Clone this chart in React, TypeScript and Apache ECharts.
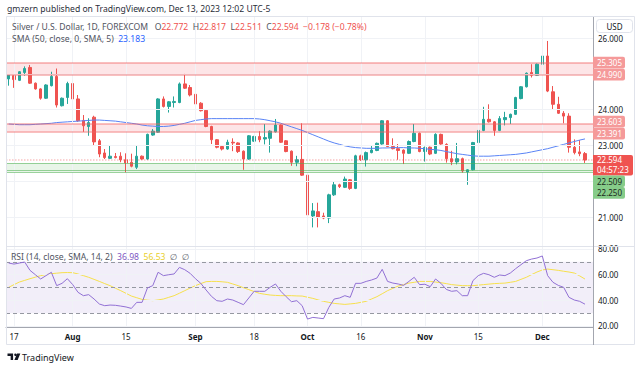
import React, { useEffect, useRef } from 'react';
import * as echarts from 'echarts';

const FONT = '"Noto Sans", "DejaVu Sans", sans-serif';

function weekdayDates(start: string, count: number): string[] {
  const out: string[] = [];
  const d = new Date(start + 'T00:00:00Z');
  while (out.length < count) {
    const wd = d.getUTCDay();
    if (wd !== 0 && wd !== 6) out.push(d.toISOString().slice(0, 10));
    d.setUTCDate(d.getUTCDate() + 1);
  }
  return out;
}

// 109 daily bars (Jul 14 – Dec 13, 2023) plus one empty slot of right margin
const categories = weekdayDates('2023-07-14', 110);

const xTickDates = ['2023-07-17', '2023-08-01', '2023-08-15', '2023-09-01', '2023-09-18', '2023-10-02', '2023-10-16', '2023-11-01', '2023-11-15', '2023-12-01'];
const xTickTexts = ['17', 'Aug', '15', 'Sep', '18', 'Oct', '16', 'Nov', '15', 'Dec'];

const opens = [
  24.86, 24.95, 24.82, 25.04, 25.18, 24.74, 24.58, 24.32, 24.67, 24.93,
  24.11, 24.34, 24.73, 24.30, 23.70, 23.53, 23.79, 23.13, 22.79, 22.64,
  22.69, 22.70, 22.60, 22.53, 22.39, 22.70, 22.62, 23.29, 23.37, 24.30,
  24.09, 24.20, 24.20, 24.72, 24.62, 24.43, 24.18, 23.98, 23.53, 23.16,
  22.97, 22.90, 23.09, 23.07, 22.84, 22.62, 23.12, 23.25, 23.18, 23.20,
  23.38, 23.57, 23.13, 22.84, 22.53, 22.61, 22.17, 21.03, 21.15, 21.03,
  20.97, 21.62, 21.90, 21.83, 22.04, 21.80, 22.71, 22.60, 22.80, 22.86,
  23.04, 23.69, 22.97, 22.91, 22.87, 22.78, 23.11, 23.34, 22.83, 22.95,
  22.78, 23.31, 23.03, 22.63, 22.54, 22.63, 22.26, 22.32, 23.08, 23.42,
  23.73, 23.66, 23.42, 23.72, 23.78, 23.87, 24.31, 24.64, 25.04, 24.96,
  25.27, 25.50, 24.50, 24.15, 23.90, 23.82, 22.95, 22.82, 22.772,
];
const highs = [
  24.99, 24.95, 25.08, 25.21, 25.25, 24.76, 24.60, 24.71, 25.06, 25.15,
  24.34, 24.78, 24.76, 24.41, 23.85, 23.76, 23.83, 23.18, 22.90, 23.00,
  22.79, 22.81, 22.78, 22.77, 23.00, 22.72, 23.33, 23.46, 24.32, 24.37,
  24.24, 24.37, 24.76, 25.00, 24.69, 24.82, 24.21, 24.00, 23.55, 23.18,
  22.99, 23.16, 23.20, 23.09, 22.86, 23.29, 23.27, 23.40, 23.60, 23.42,
  23.74, 23.59, 23.15, 22.86, 22.71, 23.62, 22.20, 21.39, 21.40, 21.12,
  21.65, 21.99, 21.93, 22.13, 22.06, 22.74, 22.74, 22.83, 23.01, 23.08,
  23.71, 23.71, 23.20, 23.04, 22.89, 23.14, 23.60, 23.36, 22.97, 22.97,
  23.34, 23.33, 23.06, 22.85, 23.07, 22.66, 22.34, 23.10, 23.62, 24.08,
  24.15, 23.68, 23.82, 23.94, 23.89, 24.36, 24.66, 25.04, 25.27, 25.29,
  25.55, 25.92, 24.66, 24.36, 23.96, 23.90, 23.17, 23.15, 22.817,
];
const lows = [
  24.67, 24.61, 24.80, 24.95, 24.72, 24.56, 24.28, 24.30, 24.65, 24.06,
  24.09, 24.16, 24.28, 23.66, 23.38, 23.27, 23.01, 22.67, 22.62, 22.62,
  22.64, 22.53, 22.25, 22.39, 22.34, 22.60, 22.60, 23.27, 23.35, 24.06,
  23.92, 24.06, 24.18, 24.58, 24.37, 24.13, 23.95, 23.51, 23.04, 22.92,
  22.86, 22.88, 22.84, 22.79, 22.32, 22.60, 23.10, 23.09, 23.03, 22.80,
  23.36, 23.07, 22.81, 22.43, 22.42, 22.15, 21.03, 20.71, 20.71, 20.94,
  20.83, 21.59, 21.81, 21.81, 21.76, 21.78, 22.57, 22.41, 22.78, 22.84,
  23.02, 22.95, 22.89, 22.60, 22.48, 22.76, 23.09, 22.81, 22.55, 22.73,
  22.76, 23.02, 22.52, 22.45, 22.47, 22.24, 21.90, 22.30, 23.06, 23.40,
  23.64, 23.27, 23.40, 23.56, 23.60, 23.85, 24.29, 24.62, 24.90, 24.94,
  25.24, 24.49, 24.01, 23.88, 23.62, 22.80, 22.75, 22.70, 22.511,
];
const closes = [
  24.97, 24.84, 25.06, 25.15, 24.74, 24.58, 24.32, 24.69, 24.93, 24.13,
  24.32, 24.73, 24.30, 23.69, 23.55, 23.64, 23.10, 22.76, 22.66, 22.70,
  22.66, 22.60, 22.51, 22.42, 22.70, 22.62, 23.31, 23.40, 24.30, 24.09,
  24.22, 24.23, 24.72, 24.60, 24.41, 24.16, 23.97, 23.53, 23.16, 22.95,
  22.90, 23.09, 23.07, 22.83, 22.62, 23.27, 23.25, 23.16, 23.22, 23.40,
  23.57, 23.09, 22.83, 22.53, 22.60, 22.17, 21.06, 21.17, 20.99, 20.97,
  21.62, 21.90, 21.85, 22.06, 21.80, 22.71, 22.60, 22.80, 22.87, 23.06,
  23.69, 22.97, 22.91, 22.86, 22.78, 23.11, 23.34, 22.83, 22.94, 22.76,
  23.31, 23.04, 22.63, 22.54, 22.63, 22.29, 22.32, 23.08, 23.42, 23.73,
  23.66, 23.42, 23.75, 23.78, 23.87, 24.34, 24.64, 25.02, 24.96, 25.27,
  25.50, 24.52, 24.15, 23.90, 23.82, 22.95, 22.80, 22.77, 22.594,
];
const sma50 = [
  23.60, 23.59, 23.58, 23.58, 23.58, 23.59, 23.60, 23.61, 23.62, 23.64,
  23.65, 23.66, 23.67, 23.68, 23.69, 23.70, 23.71, 23.71, 23.70, 23.69,
  23.68, 23.66, 23.64, 23.62, 23.60, 23.57, 23.55, 23.54, 23.53, 23.53,
  23.54, 23.56, 23.59, 23.62, 23.66, 23.70, 23.72, 23.74, 23.75, 23.75,
  23.75, 23.75, 23.75, 23.75, 23.75, 23.75, 23.75, 23.74, 23.72, 23.69,
  23.66, 23.62, 23.57, 23.52, 23.47, 23.42, 23.36, 23.30, 23.24, 23.18,
  23.12, 23.07, 23.03, 22.99, 22.96, 22.94, 22.93, 22.92, 22.92, 22.92,
  22.93, 22.93, 22.94, 22.94, 22.94, 22.93, 22.93, 22.92, 22.91, 22.89,
  22.88, 22.86, 22.83, 22.80, 22.77, 22.75, 22.73, 22.71, 22.70, 22.70,
  22.70, 22.71, 22.72, 22.73, 22.74, 22.75, 22.77, 22.79, 22.82, 22.85,
  22.88, 22.91, 22.95, 22.99, 23.03, 23.07, 23.11, 23.15, 23.183,
];
const rsi = [
  69.0, 68.2, 69.0, 69.8, 63.3, 59.9, 56.6, 59.2, 61.8, 51.4,
  53.2, 56.8, 52.2, 46.2, 43.6, 44.4, 41.0, 37.1, 35.8, 36.3,
  36.1, 35.5, 34.8, 33.7, 38.4, 38.4, 49.6, 51.4, 61.8, 59.2,
  59.9, 60.5, 65.6, 63.8, 61.0, 56.8, 53.2, 48.0, 43.1, 39.7,
  39.2, 41.0, 40.2, 38.4, 36.6, 41.8, 47.0, 47.0, 47.0, 50.1,
  52.7, 47.0, 42.8, 38.9, 39.7, 35.8, 25.4, 26.7, 26.2, 25.7,
  34.5, 41.0, 41.8, 43.6, 42.3, 53.2, 53.2, 54.7, 55.8, 57.3,
  64.1, 54.7, 53.4, 52.7, 51.6, 54.7, 57.9, 52.2, 52.5, 50.6,
  56.6, 53.2, 48.5, 47.0, 47.5, 43.6, 43.6, 55.3, 59.2, 61.0,
  59.9, 57.9, 59.7, 59.2, 61.2, 64.6, 67.7, 70.8, 72.1, 72.9,
  74.5, 59.2, 54.0, 51.6, 50.1, 42.3, 40.2, 39.2, 36.98,
];
const rsiMa = [
  50.1, 52.2, 54.2, 55.5, 56.8, 58.0, 59.2, 60.0, 60.7, 61.1,
  61.5, 61.6, 61.5, 60.5, 59.2, 57.9, 56.3, 54.7, 53.0, 51.4,
  49.4, 47.5, 45.4, 43.3, 42.0, 40.7, 40.1, 39.7, 40.3, 41.0,
  42.3, 43.6, 45.5, 47.5, 49.5, 51.4, 53.0, 54.5, 54.7, 54.7,
  54.4, 54.0, 52.7, 51.4, 49.8, 48.3, 46.8, 45.4, 44.7, 44.1,
  43.8, 43.6, 43.6, 43.6, 43.4, 43.3, 42.4, 41.5, 40.3, 39.2,
  38.4, 37.6, 37.2, 36.8, 37.2, 37.6, 38.4, 39.2, 41.0, 42.8,
  45.1, 47.5, 49.3, 51.1, 52.2, 53.4, 54.0, 54.7, 54.7, 54.7,
  54.2, 53.7, 53.0, 52.2, 51.8, 51.4, 51.4, 51.4, 51.8, 52.2,
  52.6, 53.0, 53.2, 53.4, 54.0, 54.7, 56.3, 57.9, 60.0, 62.0,
  63.6, 64.3, 63.8, 63.3, 62.6, 62.0, 61.2, 59.0, 56.53,
];

const priceTicks = [21, 22, 23, 24, 25, 26];
const priceTicksLabelled = [21, 23, 24, 26];
const rsiTicks = [20, 40, 60, 80];
const rsiLevels = [30, 50, 70];
const resistanceZones = [[24.990, 25.305], [23.391, 23.603]];
const supportLines = [22.509, 22.31, 22.250];
const supportZone = [22.250, 22.509];
const lastPrice = 22.594;
const countdown = '04:57:23';

const UP = '#26a69a';
const DOWN = '#ef5350';
const GRIDC = '#f0f2f6';
const FS = 8.6;

function boxLabel(x: number, yc: number, w: number, h: number, bg: string, fg: string, text: string) {
  return {
    type: 'group', z: 100,
    children: [
      { type: 'rect', shape: { x, y: yc - h / 2, width: w, height: h, r: [0, 2, 2, 0] }, style: { fill: bg }, z: 100 },
      { type: 'text', x: x + 4, y: yc, z: 101, style: { text, fill: fg, fontSize: 8, fontFamily: FONT, verticalAlign: 'middle', align: 'left' } },
    ],
  };
}

function buildGraphic(chart: any) {
  const W = chart.getWidth();
  const axisX = W - 50;
  const py = (v: number) => chart.convertToPixel({ yAxisIndex: 0 }, v) as number;
  const els: any[] = [];
  const H = 11.6;
  resistanceZones.forEach(([lo, hi]) => {
    const a = py(hi), b = py(lo);
    const m = (a + b) / 2;
    const ya = Math.min(a, m - H / 2 - 0.2), yb = Math.max(b, m + H / 2 + 0.2);
    els.push(boxLabel(axisX, ya, 32, H, '#f59a9a', '#ffffff', hi.toFixed(3)));
    els.push(boxLabel(axisX, yb, 32, H, '#f59a9a', '#ffffff', lo.toFixed(3)));
  });
  const yp = py(lastPrice);
  els.push({
    type: 'group', z: 100,
    children: [
      { type: 'rect', z: 100, shape: { x: axisX, y: yp - 5, width: 40, height: 20.5, r: [0, 2, 2, 0] }, style: { fill: DOWN } },
      { type: 'text', z: 101, x: axisX + 4, y: yp, style: { text: lastPrice.toFixed(3), fill: '#fff', fontSize: 8, fontFamily: FONT, verticalAlign: 'middle' } },
      { type: 'text', z: 101, x: axisX + 4, y: yp + 9.5, style: { text: countdown, fill: '#fff', fontSize: 8, fontFamily: FONT, verticalAlign: 'middle' } },
    ],
  });
  const priceBoxBottom = yp + 15.5;
  let yg = Math.max(py(supportZone[1]), priceBoxBottom + H / 2);
  els.push(boxLabel(axisX, yg, 32, H, '#86cc89', '#1c2a1d', supportZone[1].toFixed(3)));
  yg = Math.max(py(supportZone[0]), yg + H);
  els.push(boxLabel(axisX, yg, 32, H, '#86cc89', '#1c2a1d', supportZone[0].toFixed(3)));
  return els;
}

const staticGraphic = [
  { type: 'text', x: 7, y: 9, z: 100, style: { text: 'gmzern published on TradingView.com, Dec 13, 2023 12:02 UTC-5', fill: '#2a2e39', fontSize: FS, fontFamily: FONT, verticalAlign: 'middle' } },
  { type: 'rect', z: 99, shape: { x: 6.5, y: 16.5, width: 628, height: 328 }, style: { fill: 'none', stroke: '#e0e3eb', lineWidth: 1 } },
  { type: 'line', z: 99, shape: { x1: 6, y1: 246.5, x2: 635, y2: 246.5 }, style: { stroke: '#e0e3eb', lineWidth: 1 } },
  { type: 'line', z: 99, shape: { x1: 593.5, y1: 17, x2: 593.5, y2: 345 }, style: { stroke: '#a3a6af', lineWidth: 1 } },
  {
    type: 'text', x: 12, y: 27, z: 100,
    style: {
      text: '{g|Silver / U.S. Dollar, 1D, FOREXCOM   O}{r|22.772}{g|  H}{r|22.817}{g|  L}{r|22.511}{g|  C}{r|22.594}{r|  −0.178 (−0.78%)}',
      fontSize: FS, fontFamily: FONT, verticalAlign: 'middle',
      rich: { g: { fill: '#50535e', color: '#50535e', fontSize: FS, fontFamily: FONT }, r: { fill: DOWN, color: DOWN, fontSize: FS, fontFamily: FONT } },
    },
  },
  {
    type: 'text', x: 12, y: 39, z: 100,
    style: {
      text: '{g|SMA (50, close, 0, SMA, 5)}{b|  23.183}', fontSize: FS, fontFamily: FONT, verticalAlign: 'middle',
      rich: { g: { fill: '#50535e', color: '#50535e', fontSize: FS, fontFamily: FONT }, b: { fill: '#2962ff', color: '#2962ff', fontSize: FS, fontFamily: FONT } },
    },
  },
  {
    type: 'text', x: 11, y: 257, z: 100,
    style: {
      text: '{g|RSI (14, close, SMA, 14, 2)}{p|  36.98}{y|  56.53}{g|  ∅  ∅}', fontSize: FS, fontFamily: FONT, verticalAlign: 'middle',
      rich: {
        g: { fill: '#50535e', color: '#50535e', fontSize: FS, fontFamily: FONT },
        p: { fill: '#7e57c2', color: '#7e57c2', fontSize: FS, fontFamily: FONT },
        y: { fill: '#e9cf2a', color: '#e9cf2a', fontSize: FS, fontFamily: FONT },
      },
    },
  },
  {
    type: 'group', z: 100,
    children: [
      { type: 'rect', z: 100, shape: { x: 596.5, y: 19.5, width: 36, height: 13, r: 3 }, style: { fill: '#fff', stroke: '#e0e3eb', lineWidth: 1 } },
      { type: 'text', z: 101, x: 614.5, y: 26, style: { text: 'USD', fill: '#131722', fontSize: 8, fontFamily: FONT, align: 'center', verticalAlign: 'middle' } },
    ],
  },
  { type: 'tvlogo', z: 100, x: 7.5, y: 353.5, scaleX: 0.93, scaleY: 0.93, style: { fill: '#131722' } },
  { type: 'text', x: 22, y: 357, z: 100, style: { text: 'TradingView', fill: '#131722', fontSize: 9, fontFamily: FONT, verticalAlign: 'middle' } },
];

let shapeRegistered = false;
function registerLogo() {
  if (shapeRegistered) return;
  shapeRegistered = true;
  const d = 'M0 0 H6 V7 H3.4 V2.6 H0 Z M7.2 1.3 A1.3 1.3 0 1 0 9.8 1.3 A1.3 1.3 0 1 0 7.2 1.3 Z M10.3 0 H13.8 L10.9 7 H7.4 Z';
  (echarts as any).graphic.registerShape('tvlogo', (echarts as any).graphic.extendPath(d, {}));
}

export default function App() {
  const ref = useRef<HTMLDivElement>(null);
  useEffect(() => {
    if (!ref.current) return;
    registerLogo();
    const chart = echarts.init(ref.current, undefined, { renderer: 'svg' });
    const candleData = opens.map((o, i) => [o, closes[i], lows[i], highs[i]]);
    const vIdx = xTickDates.map((d) => categories.indexOf(d));
    const vLines = vIdx.map((i) => ({ xAxis: i, lineStyle: { color: GRIDC, width: 1, type: 'solid' }, label: { show: false } }));
    const priceGrid = priceTicks.map((v) => ({
      yAxis: v,
      lineStyle: { color: GRIDC, width: 1, type: 'solid' },
      label: priceTicksLabelled.includes(v)
        ? { show: true, position: 'end', distance: 5, formatter: v.toFixed(3), color: '#131722', fontSize: 8, fontFamily: FONT }
        : { show: false },
    }));
    const zoneBorders = resistanceZones.flat().map((v) => ({ yAxis: v, lineStyle: { color: 'rgba(242,100,100,0.55)', width: 1.6, type: 'solid' }, label: { show: false } }));
    const supportBorders = supportLines.map((v) => ({ yAxis: v, lineStyle: { color: 'rgba(76,175,80,0.55)', width: 1.2, type: 'solid' }, label: { show: false } }));
    const lastLine = { yAxis: lastPrice, lineStyle: { color: 'rgba(239,83,80,0.35)', width: 1.5, type: [1.5, 1.5] }, label: { show: false } };
    const rsiGrid = rsiTicks.map((v) => ({
      yAxis: v,
      lineStyle: { color: GRIDC, width: 1, type: 'solid' },
      label: { show: true, position: 'end', distance: 5, formatter: v.toFixed(2), color: '#131722', fontSize: 8, fontFamily: FONT },
    }));
    const rsiDashed = rsiLevels.map((v) => ({ yAxis: v, lineStyle: { color: '#9598a1', width: 1, type: [4, 3] }, label: { show: false } }));

    const option: any = {
      animation: false,
      backgroundColor: '#ffffff',
      textStyle: { fontFamily: FONT },
      grid: [
        { left: 6, right: 50, top: 17, height: 229 },
        { left: 6, right: 50, top: 247, height: 80 },
      ],
      xAxis: [
        { type: 'category', gridIndex: 0, data: categories, boundaryGap: true, axisLine: { show: false }, axisTick: { show: false }, axisLabel: { show: false }, splitLine: { show: false } },
        {
          type: 'category', gridIndex: 1, data: categories, boundaryGap: true,
          axisLine: { show: true, lineStyle: { color: '#a3a6af', width: 1 } }, axisTick: { show: false }, splitLine: { show: false },
          axisLabel: {
            show: true, margin: 5, fontSize: 8, color: '#131722', fontFamily: FONT, hideOverlap: false,
            interval: (_i: number, v: string) => xTickDates.includes(v),
            formatter: (v: string) => {
              const k = xTickDates.indexOf(v);
              if (k < 0) return '';
              const t = xTickTexts[k];
              return /^[A-Z]/.test(t) ? `{m|${t}}` : t;
            },
            rich: { m: { fontWeight: 'bold', fontSize: 8, color: '#131722', fontFamily: FONT } },
          },
        },
      ],
      yAxis: [
        { type: 'value', gridIndex: 0, position: 'right', min: 20.19, max: 26.59, axisLine: { show: false }, axisTick: { show: false }, axisLabel: { show: false }, splitLine: { show: false } },
        { type: 'value', gridIndex: 1, position: 'right', min: 19.22, max: 81.48, axisLine: { show: false }, axisTick: { show: false }, axisLabel: { show: false }, splitLine: { show: false } },
      ],
      series: [
        {
          name: 'overlay', type: 'line', xAxisIndex: 0, yAxisIndex: 0, data: [], z: 1, silent: true, symbol: 'none',
          markArea: {
            silent: true,
            data: [
              ...resistanceZones.map(([lo, hi]) => [{ yAxis: lo, itemStyle: { color: 'rgba(242,54,69,0.13)' } }, { yAxis: hi }]),
              [{ yAxis: supportZone[0], itemStyle: { color: 'rgba(76,175,80,0.13)' } }, { yAxis: supportZone[1] }],
            ],
          },
          markLine: { silent: true, symbol: ['none', 'none'], data: [...vLines, ...priceGrid, ...zoneBorders, ...supportBorders, lastLine] },
        },
        {
          name: 'XAGUSD', type: 'candlestick', xAxisIndex: 0, yAxisIndex: 0, data: candleData, z: 3, barWidth: 3,
          itemStyle: { color: UP, color0: DOWN, borderColor: UP, borderColor0: DOWN, borderWidth: 1 },
        },
        {
          name: 'SMA 50', type: 'line', xAxisIndex: 0, yAxisIndex: 0, data: sma50, z: 4, symbol: 'none', smooth: false,
          lineStyle: { color: '#5a84f5', width: 1 },
        },
        {
          name: 'rsiOverlay', type: 'line', xAxisIndex: 1, yAxisIndex: 1, data: [], z: 1, silent: true, symbol: 'none',
          markArea: { silent: true, data: [[{ yAxis: 30, itemStyle: { color: 'rgba(126,87,194,0.1)' } }, { yAxis: 70 }]] },
          markLine: { silent: true, symbol: ['none', 'none'], data: [...vLines, ...rsiGrid, ...rsiDashed] },
        },
        {
          name: 'RSI MA', type: 'line', xAxisIndex: 1, yAxisIndex: 1, data: rsiMa, z: 4, symbol: 'none',
          lineStyle: { color: '#f6e04c', width: 1 },
        },
        {
          name: 'RSI', type: 'line', xAxisIndex: 1, yAxisIndex: 1, data: rsi, z: 5, symbol: 'none',
          lineStyle: { color: '#9170d4', width: 1 },
        },
      ],
      graphic: staticGraphic,
    };
    chart.setOption(option);
    chart.setOption({ graphic: [...staticGraphic, ...buildGraphic(chart)] });
    return () => chart.dispose();
  }, []);
  return <div ref={ref} style={{ position: 'fixed', left: 0, top: 0, width: 643, height: 369, background: '#fff' }} />;
}
